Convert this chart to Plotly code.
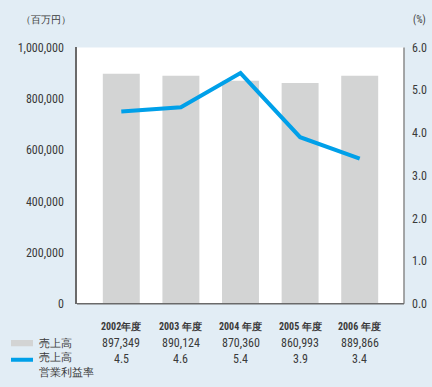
import plotly.graph_objects as go

# Fiscal years, net sales (million yen) and operating margin (%)
years = ["2002年度", "2003 年度", "2004 年度", "2005 年度", "2006 年度"]
sales = [897349, 890124, 870360, 860993, 889866]
margin = [4.5, 4.6, 5.4, 3.9, 3.4]

sales_ticks = [0, 200000, 400000, 600000, 800000, 1000000]
margin_ticks = [0.0, 1.0, 2.0, 3.0, 4.0, 5.0, 6.0]

W, H = 432, 387
BG = "#E2EDF5"
TXT = "#3a3a3a"
BAR = "#D3D4D4"
LINE = "#00A0E9"
FONT = "Liberation Sans Narrow, Arial Narrow, Roboto Condensed, Liberation Sans, sans-serif"

# plot area in pixels
x0, x1 = 77, 404
y_top, y_bot = 42, 308
dom_x = [x0 / W, x1 / W]
dom_y = [1 - y_bot / H, 1 - y_top / H]

def py(pix):
    return 1 - pix / H

def label(x, y, text, size, xref="paper", xanchor="center"):
    return dict(x=x, y=py(y), xref=xref, yref="paper", text=text, showarrow=False,
                xanchor=xanchor, yanchor="middle",
                font=dict(size=size, color=TXT, family=FONT))

idx = list(range(len(years)))

fig = go.Figure()
fig.add_trace(go.Bar(x=idx, y=sales, width=0.62, marker=dict(color=BAR, line=dict(width=0)),
                     yaxis="y", hoverinfo="skip"))
fig.add_trace(go.Scatter(x=idx, y=margin, mode="lines", yaxis="y2",
                         line=dict(color=LINE, width=4), hoverinfo="skip"))

annotations = [
    label(46 / W, 13, "（百万円）", 10),
    label(419 / W, 13, "(%)", 10),
]

# table under the chart
for i, yr in enumerate(years):
    annotations.append(label(i, 331, "<b>%s</b>" % yr, 10, xref="x"))
    annotations.append(label(i, 349, f"{sales[i]:,}", 12, xref="x"))
    annotations.append(label(i, 365, f"{margin[i]:.1f}", 12, xref="x"))

annotations.append(label(37 / W, 349, "売上高", 11, xanchor="left"))
annotations.append(label(37 / W, 364, "売上高", 11, xanchor="left"))
annotations.append(label(37 / W, 379, "営業利益率", 11, xanchor="left"))

shapes = [
    # legend swatches
    dict(type="rect", xref="paper", yref="paper", x0=11 / W, x1=33 / W, y0=py(352), y1=py(345.5),
         fillcolor=BAR, line=dict(width=0)),
    dict(type="line", xref="paper", yref="paper", x0=11 / W, x1=33 / W, y0=py(366), y1=py(366),
         line=dict(color=LINE, width=4)),
    # white plot background
    dict(type="rect", xref="paper", yref="paper", x0=dom_x[0], x1=dom_x[1], y0=dom_y[0], y1=dom_y[1],
         fillcolor="white", line=dict(width=0), layer="below"),
    # right axis line
    dict(type="line", xref="paper", yref="paper", x0=dom_x[1], x1=dom_x[1], y0=dom_y[0], y1=dom_y[1],
         line=dict(color="#8a8a8a", width=1.5)),
    # bottom axis line
    dict(type="line", xref="paper", yref="paper", x0=dom_x[0], x1=dom_x[1], y0=dom_y[0], y1=dom_y[0],
         line=dict(color="#6a6a6a", width=1.5)),
]

fig.update_layout(
    width=W, height=H,
    margin=dict(l=0, r=0, t=0, b=0),
    paper_bgcolor=BG, plot_bgcolor="rgba(0,0,0,0)",
    showlegend=False,
    font=dict(family=FONT, color=TXT),
    xaxis=dict(domain=dom_x, range=[-0.743, 4.743], showticklabels=False, showgrid=False,
               zeroline=False, showline=False, ticks=""),
    yaxis=dict(domain=dom_y, range=[0, 1000000], tickvals=sales_ticks, tickformat=",d",
               showgrid=False, zeroline=False, showline=True, linecolor="#6a6a6a", linewidth=1.5,
               ticks="", ticklabelstandoff=9, tickfont=dict(size=12, color=TXT, family=FONT)),
    yaxis2=dict(domain=dom_y, range=[0, 6], overlaying="y", side="right", tickvals=margin_ticks,
                tickformat=".1f", showgrid=False, zeroline=False, showline=False, ticks="",
                ticklabelstandoff=7, tickfont=dict(size=12, color=TXT, family=FONT)),
    annotations=annotations,
    shapes=shapes,
)

fig.write_html("out.html")
